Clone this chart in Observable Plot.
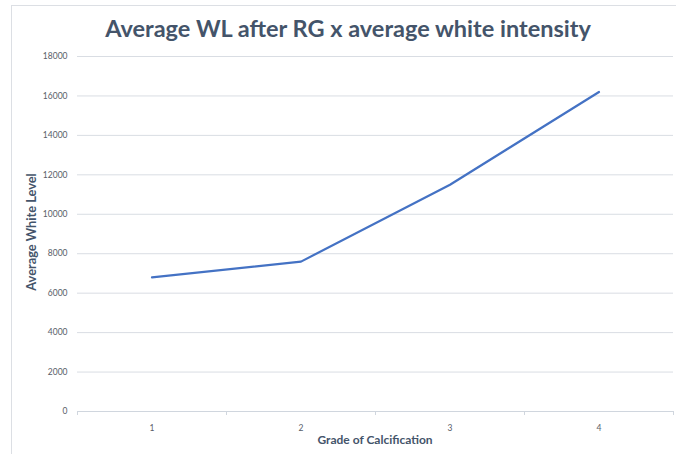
<!DOCTYPE html>
<html>
<head>
<meta charset="utf-8">
<script src="https://cdn.jsdelivr.net/npm/d3@7"></script>
<script src="https://cdn.jsdelivr.net/npm/@observablehq/plot@0.6"></script>
<style>
  html, body { margin: 0; padding: 0; background: #fff; }
  #wrap { position: relative; width: 676px; height: 454px; overflow: hidden; font-family: Lato, "Open Sans", sans-serif; }
  #frame { position: absolute; left: 11px; top: 5px; width: 680px; height: 460px; border: 1px solid #dcdfe4; box-sizing: border-box; }
  #title { position: absolute; left: 0; width: 696px; top: 14px; text-align: center; font-size: 23.5px; font-weight: 700; color: #44546A; white-space: nowrap; }
  #ylab { position: absolute; left: 31px; top: 232px; transform: translate(-50%, -50%) rotate(-90deg); font-size: 12.8px; font-weight: 700; color: #44546A; white-space: nowrap; }
  #xlab { position: absolute; left: 375px; top: 439px; transform: translate(-50%, -50%); font-size: 12px; font-weight: 700; color: #44546A; white-space: nowrap; }
  #chart { position: absolute; left: 0; top: 0; }
</style>
</head>
<body>
<div id="wrap">
  <div id="frame"></div>
  <div id="chart"></div>
  <div id="title">Average WL after RG x average white intensity</div>
  <div id="ylab">Average White Level</div>
  <div id="xlab">Grade of Calcification</div>
</div>
<script>
const grades = [1, 2, 3, 4];
const whiteLevel = [6800, 7600, 11500, 16200];
const yTicks = [0, 2000, 4000, 6000, 8000, 10000, 12000, 14000, 16000, 18000];
const bandEdges = [0.5, 1.5, 2.5, 3.5, 4.5];

const data = grades.map((g, i) => ({grade: g, value: whiteLevel[i]}));

const plot = Plot.plot({
  width: 676,
  height: 454,
  marginLeft: 77,
  marginRight: 3,
  marginTop: 56,
  marginBottom: 43,
  style: {fontFamily: "Lato, 'Open Sans', sans-serif", background: "transparent", color: "#595959"},
  x: {type: "linear", domain: [0.5, 4.5], axis: null},
  y: {domain: [0, 18000], axis: null},
  marks: [
    Plot.gridY(yTicks, {stroke: "#d9dde3", strokeOpacity: 1, strokeWidth: 1}),
    Plot.axisY({ticks: yTicks, tickSize: 0, tickPadding: 10, fontSize: 8.5, fill: "#585d68", label: null, tickFormat: d => String(d)}),
    Plot.ruleY([0], {stroke: "#d0d6de", strokeWidth: 1}),
    Plot.axisX({ticks: bandEdges, tickSize: 4, tickFormat: () => "", stroke: "#d0d6de", label: null}),
    Plot.axisX({ticks: grades, tickSize: 0, tickPadding: 13, fontSize: 8.5, fill: "#585d68", label: null, tickFormat: d => String(d)}),
    Plot.line(data, {x: "grade", y: "value", stroke: "#4472C4", strokeWidth: 2.2})
  ]
});
document.getElementById("chart").appendChild(plot);
</script>
</body>
</html>
